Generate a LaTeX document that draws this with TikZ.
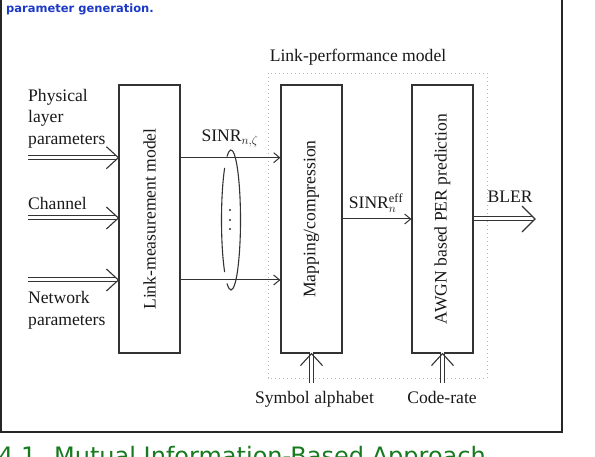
\documentclass[tikz,border=0pt]{standalone}
\usepackage{fontspec}
\setmainfont{Liberation Serif}
\newfontfamily\headfont{DejaVu Sans}
\usetikzlibrary{arrows.meta}
\definecolor{lineg}{HTML}{333333}
\definecolor{capblue}{RGB}{28,58,200}
\definecolor{capgreen}{RGB}{22,122,30}
\tikzset{
  blk/.style={draw=lineg, line width=1.2pt, minimum width=61pt, minimum height=268pt, inner sep=0pt},
  lbl/.style={font=\fontsize{17.6}{21.5}\selectfont, text=black!90, inner sep=0pt},
  sarr/.style={draw=lineg, line width=1pt, -{Straight Barb[length=6pt,width=10pt,line width=1pt]}},
  dbl/.style={draw=lineg, line width=1pt, double=white, double distance=3pt},
  chev/.style={draw=lineg, line width=1.1pt, line join=miter},
  grp/.style={draw=gray!55, line width=0.9pt, dash pattern=on 1pt off 3pt}
}
\begin{document}
\begin{tikzpicture}[x=1pt,y=-1pt]
\useasboundingbox (0,0) rectangle (595,457);
\fill[white] (0,0) rectangle (595,457);
% outer frame
\draw[black!85, line width=1.3pt] (1,-5) -- (1,432) -- (562,432) -- (562,-5);
% captions
\node[anchor=base west, inner sep=0pt, text=capblue, font=\headfont\bfseries\fontsize{11.5}{13}\selectfont] (cap) at (6,13) {parameter generation.};
\node[anchor=base west, inner sep=0pt, text=capgreen, font=\headfont\fontsize{24}{28}\selectfont] (sec) at (-2,464) {4.1. Mutual Information-Based Approach};
% group box
\draw[grp] (268,73) rectangle (487,378);
\node[lbl, anchor=base] (lpm) at (358,61.7) {Link-performance model};
% blocks
\node[blk, label={[lbl, rotate=90]center:Link-measurement model}] (lm) at (149.5,219) {};
\node[blk, label={[lbl, rotate=90]center:Mapping/compression}] (mc) at (311.5,219) {};
\node[blk, label={[lbl, rotate=90]center:AWGN based PER prediction}] (aw) at (442.5,219) {};
% input labels
\node[lbl, anchor=north west, align=left] (phy) at (28,89) {Physical\\layer\\parameters};
\node[lbl, anchor=base west] (chn) at (28,210) {Channel};
\node[lbl, anchor=north west, align=left] (net) at (28,291.5) {Network\\parameters};
% input double arrows
\coordinate (i1) at (28,157.7); \coordinate (e1) at (lm.west |- i1);
\coordinate (i2) at (28,218);   \coordinate (e2) at (lm.west |- i2);
\coordinate (i3) at (28,280);   \coordinate (e3) at (lm.west |- i3);
\foreach \s/\e in {i1/e1,i2/e2,i3/e3}{
  \draw[dbl] (\s) -- ([xshift=-2pt]\e);
  \draw[chev] ([shift={(-12,-11)}]\e) -- (\e) -- ([shift={(-12,11)}]\e);
}
% SINR arrows
\coordinate (s1) at (lm.east |- i1); \coordinate (t1) at (mc.west |- i1);
\coordinate (s3) at (lm.east |- i3); \coordinate (t3) at (mc.west |- i3);
\draw[sarr] (s1) -- (t1);
\draw[sarr] (s3) -- (t3);
\node[lbl, anchor=base] (sinr) at (230,141.7) {SINR$_{n,\zeta}$};
% ellipse ring and dots
\draw[lineg, line width=1.1pt] (231,220) ++(-115:9.5 and 70) arc[start angle=-115, end angle=115, x radius=9.5, y radius=70];
\draw[lineg, line width=1.1pt] (231,220) ++(132:9.5 and 70) arc[start angle=132, end angle=228, x radius=9.5, y radius=70];
\foreach \yy in {210,220,229} \fill[lineg] (230,\yy) circle (1.2);
% effective SINR
\draw[sarr] (mc.east) -- (aw.west);
\node[lbl, anchor=base] (seff) at (376,208.3) {SINR$_{n}^{\mathrm{eff}}$};
% BLER output
\coordinate (bl) at (535,219);
\draw[dbl] (aw.east) -- ([xshift=-2pt]bl);
\draw[chev] ([shift={(-13,-13)}]bl) -- (bl) -- ([shift={(-13,13)}]bl);
\node[lbl, anchor=base] (bler) at (510,202.7) {BLER};
% bottom inputs
\coordinate (b1) at (311.5,383); \coordinate (c1) at (mc.south);
\coordinate (b2) at (442.5,383); \coordinate (c2) at (aw.south);
\foreach \s/\e in {b1/c1,b2/c2}{
  \draw[dbl] (\s) -- ([yshift=2pt]\e);
  \draw[chev] ([shift={(-11,12)}]\e) -- (\e) -- ([shift={(11,12)}]\e);
}
\node[lbl, anchor=base] (sym) at (314.5,403.3) {Symbol alphabet};
\node[lbl, anchor=base] (cr) at (442,403.3) {Code-rate};
\end{tikzpicture}
\end{document}
